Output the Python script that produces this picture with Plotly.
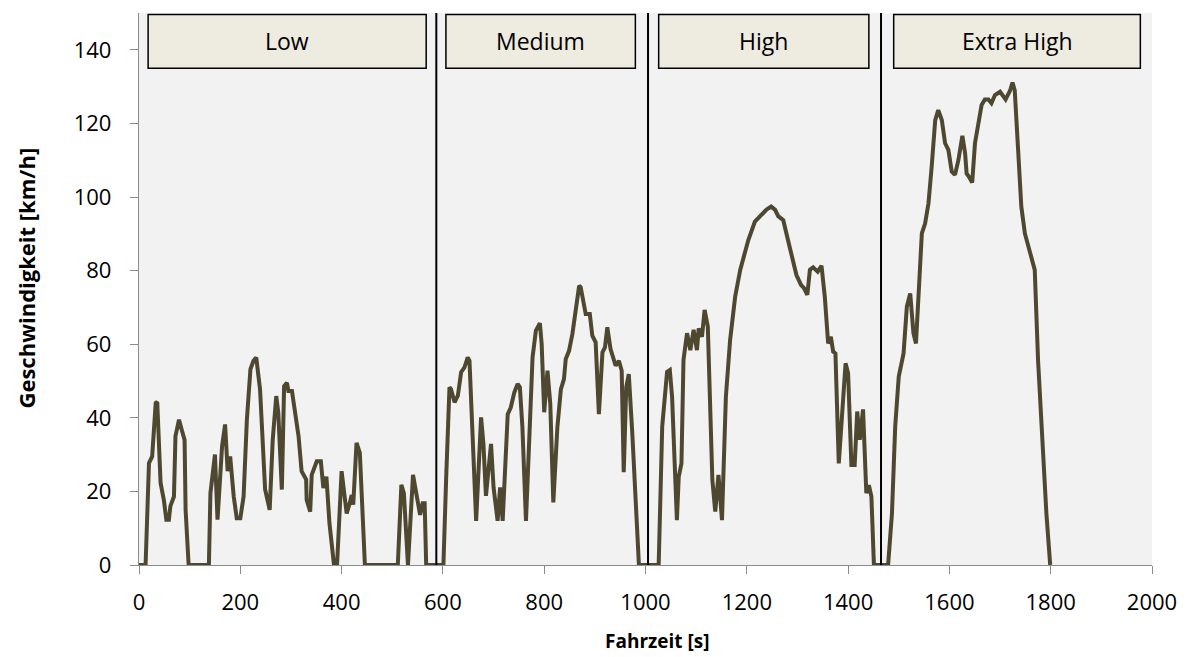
import plotly.graph_objects as go

# Phase data (time in s, speed in km/h)
low_t = [0, 13, 19.7, 26, 33, 36, 42.6, 49, 54, 59, 62, 69, 72, 79, 85, 90, 92, 98, 138, 141, 150, 155, 164, 170, 175,
         180, 187, 193, 200, 206.5, 213, 220, 226, 231.5, 239, 246, 249, 258, 264, 271, 275, 282, 286.5, 292, 295, 302,
         308, 315, 321, 330, 331, 338, 341, 351, 359, 364, 370, 376, 385, 391, 400, 410, 416, 420, 423, 429.5, 436, 446,
         511, 518, 523, 531, 541, 549, 555, 560, 564, 567]
low_v = [0, 0, 27.7, 29.5, 44, 44.3, 22.3, 17.7, 12.3, 12.3, 16, 18.6, 35, 39.5, 36.4, 34, 15, 0, 0, 19.5, 30, 12.3, 32.3,
         38.2, 25.5, 29.5, 18.6, 12.7, 12.7, 18.6, 39.5, 53.2, 55.5, 56.4, 47.7, 31.4, 20.5, 15, 34, 45.9, 41.4, 20.5,
         48.6, 49.5, 47.3, 47.3, 40.9, 35, 25.5, 23.2, 17.7, 14.5, 24.5, 28.2, 28.2, 20.9, 24, 11.4, 0, 0, 25.5, 14, 16.8,
         19, 16.4, 33.2, 30.5, 0, 0, 21.8, 19.5, 0, 24.5, 17.7, 13.6, 16.8, 16.8, 0]

medium_t = [601, 606.5, 613, 616, 623, 629.5, 636, 642.6, 649, 652.5, 659, 665.6, 675.4, 680, 685, 695, 700, 708, 713,
            718, 728, 734, 741, 747.5, 752, 757, 764, 770.5, 777, 783.6, 791.5, 795, 800, 806.5, 812, 818, 826, 833,
            839, 842.6, 849, 855.7, 862, 869, 872, 879, 882, 890, 895, 901.6, 908, 915, 920, 924.6, 931, 941, 947.5,
            953, 957, 962, 967, 974, 983.6, 987]
medium_v = [0, 23.8, 48.3, 47.8, 44.2, 46, 52.4, 53.7, 56.4, 55.5, 35.6, 12, 40.1, 32.9, 18.8, 32.9, 21.1, 12, 21.1, 12,
            41, 42.8, 46.9, 49.2, 48.3, 37.4, 12, 32, 56.4, 63.7, 65.7, 60, 41.5, 52.8, 43.8, 17, 37.4, 47.8, 50.5, 56,
            58.2, 62.8, 69.1, 75.9, 75.5, 70, 68.2, 68.2, 62.3, 60.5, 41, 57.8, 59.1, 64.6, 58.7, 54.2, 55.5, 52.8,
            25.2, 48.3, 51.9, 35.6, 8.4, 0]

high_t = [1026, 1033, 1042.6, 1048, 1052.5, 1058, 1062, 1065.6, 1071, 1075, 1082, 1088.5, 1095, 1101.6, 1105, 1111.5,
          1116.7, 1123, 1128, 1132, 1137.7, 1144, 1151, 1158.7, 1167, 1177, 1187, 1196.7, 1203, 1216, 1229.5, 1239,
          1248, 1256, 1262, 1272, 1282, 1292, 1298, 1307, 1313, 1319.5, 1324.6, 1331, 1340, 1347.5, 1354, 1360.6,
          1366, 1370.5, 1375, 1381.6, 1387, 1395, 1400, 1406.5, 1413, 1418, 1423, 1429.5, 1436, 1441, 1446, 1451]
high_v = [0, 37.6, 52.5, 53, 45.7, 23.1, 12.2, 24, 27.6, 55.7, 63, 58.4, 63.9, 58.4, 64.3, 62, 69.3, 64.8, 41.2, 23.1,
          14.5, 24.5, 12.2, 45.7, 61.1, 72.9, 80.2, 85.6, 88.3, 93.3, 95.1, 96.6, 97.4, 96.5, 94.8, 93.7, 87.9, 82,
          78.8, 76.1, 75.2, 73.4, 80.2, 80.9, 79.7, 81.3, 72.9, 60.2, 62, 58, 57.5, 27.6, 40.3, 54.8, 52.1, 27.2,
          27.2, 41.7, 34, 42.3, 19.5, 21.7, 18.6, 0]

extra_t = [1479, 1486.6, 1493, 1500, 1509.5, 1516, 1522.6, 1529, 1534, 1540, 1545.6, 1552, 1558.7, 1565, 1572, 1578,
           1585, 1591.5, 1598, 1604.6, 1611, 1617.7, 1625.6, 1631, 1634, 1638.7, 1645, 1650.5, 1657, 1663.6, 1670,
           1677, 1683, 1690, 1700, 1711, 1720, 1724.6, 1729, 1735.7, 1742, 1749, 1758.7, 1768.5, 1775, 1785, 1791.5,
           1799]
extra_v = [0, 14, 37.6, 51.2, 57.5, 70.2, 73.8, 63, 60.2, 78.4, 90.1, 92.8, 98.3, 108.2, 120.9, 123.6, 120.9, 114.6,
           112.8, 106.9, 106, 110, 116.6, 111.9, 106.4, 105.5, 103.9, 114.6, 120, 125, 126.5, 126.5, 125.5, 127.7,
           128.6, 126.5, 129, 131.1, 129, 111.9, 97.4, 90.1, 85.6, 80.2, 55.7, 28.5, 14, 0]

phase_names = ["Low", "Medium", "High", "Extra High"]
phase_box_start = [18, 606, 1026, 1490]
phase_box_end = [567, 980, 1441, 1977]
phase_boundaries = [587, 1005, 1465]

x_ticks = [0, 200, 400, 600, 800, 1000, 1200, 1400, 1600, 1800, 2000]
y_ticks = [0, 20, 40, 60, 80, 100, 120, 140]

t_all = low_t + medium_t + high_t + extra_t
v_all = low_v + medium_v + high_v + extra_v

FONT = "Open Sans"
LINE_COLOR = "#4e4830"

fig = go.Figure()
fig.add_trace(go.Scatter(x=t_all, y=v_all, mode="lines",
                         line=dict(color=LINE_COLOR, width=4),
                         showlegend=False, hoverinfo="skip"))

shapes = []
for b in phase_boundaries:
    shapes.append(dict(type="line", xref="x", yref="y", x0=b, x1=b, y0=0, y1=150,
                       line=dict(color="black", width=2), layer="above"))
annotations = []
for name, s, e in zip(phase_names, phase_box_start, phase_box_end):
    shapes.append(dict(type="rect", xref="x", yref="y", x0=s, x1=e, y0=135, y1=149.6,
                       fillcolor="#eeebe0", line=dict(color="black", width=1.5), layer="above"))
    annotations.append(dict(x=(s + e) / 2, y=142.3, xref="x", yref="y", text=name, showarrow=False,
                            font=dict(family=FONT, size=23, color="black")))

annotations.append(dict(x=0.512, y=-0.1377, xref="paper", yref="paper", text="<b>Fahrzeit [s]</b>",
                        showarrow=False, yanchor="middle", xanchor="center",
                        font=dict(family=FONT, size=19, color="black")))
annotations.append(dict(x=-0.112, y=0.52, xref="paper", yref="paper", text="<b>Geschwindigkeit [km/h]</b>",
                        showarrow=False, textangle=-90, xanchor="center", yanchor="middle",
                        font=dict(family=FONT, size=22, color="black")))

fig.update_layout(
    width=1189, height=657,
    margin=dict(l=139, r=34, t=13, b=92),
    paper_bgcolor="white", plot_bgcolor="#f2f2f2",
    shapes=shapes, annotations=annotations,
    font=dict(family=FONT, size=21, color="black"),
    xaxis=dict(range=[0, 2000], tickvals=x_ticks, showgrid=False, zeroline=False,
               showline=True, linecolor="#8c8c8c", linewidth=1.3,
               ticks="outside", ticklen=8, tickcolor="#8c8c8c", tickwidth=1.3,
               ticklabelstandoff=9,
               tickfont=dict(family=FONT, size=22, color="black")),
    yaxis=dict(range=[0, 150], tickvals=y_ticks, showgrid=False, zeroline=False,
               showline=True, linecolor="#8c8c8c", linewidth=1.3,
               ticks="outside", ticklen=8, tickcolor="#8c8c8c", tickwidth=1.3,
               ticklabelstandoff=14,
               tickfont=dict(family=FONT, size=22, color="black")),
)

fig.write_html("out.html", config={"displayModeBar": False},
               post_script="document.body.style.margin='0';document.body.style.overflow='hidden';")
